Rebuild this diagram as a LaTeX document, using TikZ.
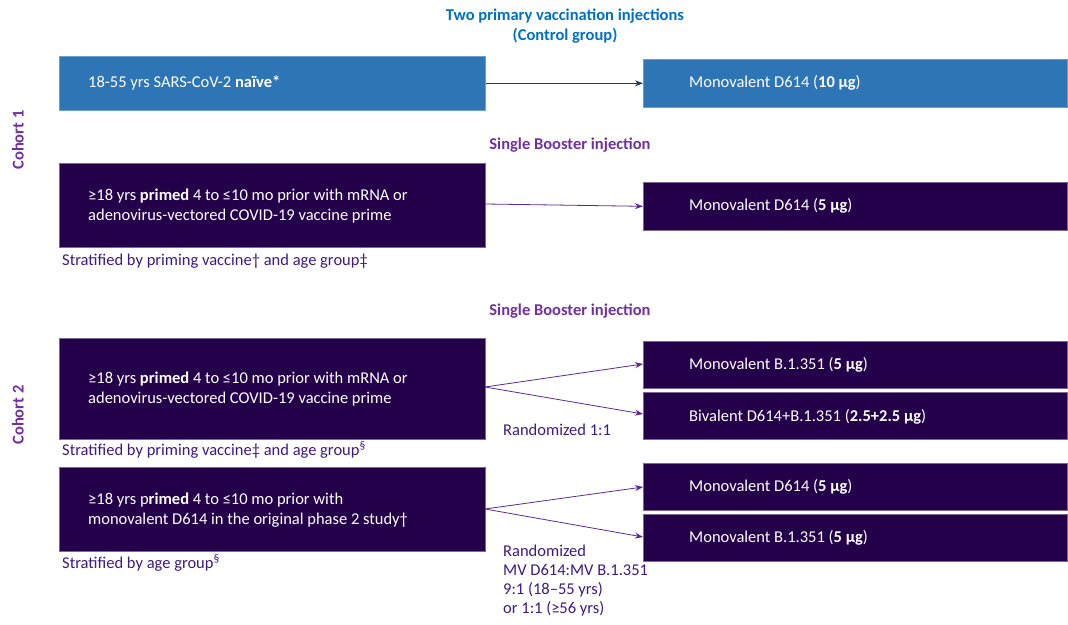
\documentclass[tikz,border=0pt]{standalone}
\usepackage{fontspec}
\setmainfont{Carlito}
\usetikzlibrary{arrows.meta}
\definecolor{cblue}{HTML}{2E75B6}
\definecolor{tblue}{HTML}{0070C0}
\definecolor{dpurp}{HTML}{24004A}
\definecolor{lpurp}{HTML}{7030A0}
\definecolor{spurp}{HTML}{3C1A80}
\definecolor{apurp}{HTML}{5A2A96}
\definecolor{navy}{HTML}{203864}
\begin{document}
\begin{tikzpicture}[x=1pt,y=-1pt,
  txt/.style={font=\fontsize{16.5}{20}\selectfont},
  bluebox/.style={fill=cblue,draw=cblue!70!white,line width=0.6pt,text=white,inner sep=0pt,anchor=north west},
  darkbox/.style={fill=dpurp,draw=dpurp!60!white,line width=0.6pt,text=white,inner sep=0pt,anchor=north west},
  boxtext/.style={txt,text=white,anchor=west,align=left,inner sep=0pt},
  note/.style={txt,text=spurp,anchor=west,align=left,inner sep=0pt},
  head/.style={font=\bfseries\fontsize{16.5}{20}\selectfont,align=center,inner sep=0pt},
  arr/.style={-{Stealth[length=8pt,width=6pt]},line width=0.8pt,draw=apurp},
  ]
\useasboundingbox (0,0) rectangle (1068,624);
% titles
\node[head,text=tblue] (t1) at (565,26) {Two primary vaccination injections\\(Control group)};
\node[head,text=lpurp] (t2) at (570,145) {Single Booster injection};
\node[head,text=lpurp] (t3) at (570,311) {Single Booster injection};
\node[head,text=lpurp,rotate=90] (c1) at (18,140) {Cohort 1};
\node[head,text=lpurp,rotate=90] (c2) at (18,415) {Cohort 2};
% cohort 1 control
\node[bluebox,minimum width=426,minimum height=54] (A) at (59,56) {};
\node[boxtext] at (88,83) {18-55 yrs SARS-CoV-2 \textbf{naïve*}};
\node[bluebox,minimum width=424,minimum height=48] (A2) at (643,59) {};
\node[boxtext] at (689,83) {Monovalent D614 (\textbf{10 µg})};
\draw[-{Stealth[length=8pt,width=6pt]},line width=0.8pt,draw=navy] (A.east) -- (A2.west);
% cohort 1 booster
\node[darkbox,minimum width=426,minimum height=84] (B) at (59,163) {};
\node[boxtext] at (88,206) {≥18 yrs \textbf{primed} 4 to ≤10 mo prior with mRNA or\\adenovirus-vectored COVID-19 vaccine prime};
\node[note] (Bn) at (62,261) {Stratified by priming vaccine† and age group‡};
\node[darkbox,minimum width=424,minimum height=48] (B2) at (643,182) {};
\node[boxtext] at (689,206) {Monovalent D614 (\textbf{5 µg})};
\coordinate (Bs) at (485,204);
\draw[arr] (Bs) -- (B2.west);
% cohort 2 first
\node[darkbox,minimum width=426,minimum height=101] (C) at (59,338) {};
\node[boxtext] at (88,389) {≥18 yrs \textbf{primed} 4 to ≤10 mo prior with mRNA or\\adenovirus-vectored COVID-19 vaccine prime};
\node[note] (Cn) at (62,450) {Stratified by priming vaccine‡ and age group\textsuperscript{§}};
\node[darkbox,minimum width=424,minimum height=47] (C1) at (643,341) {};
\node[boxtext] at (689,365) {Monovalent B.1.351 (\textbf{5 µg})};
\node[darkbox,minimum width=424,minimum height=47] (C2) at (643,392) {};
\node[boxtext] at (689,417) {Bivalent D614+B.1.351 (\textbf{2.5+2.5 µg})};
\coordinate (Cs) at (485,387);
\coordinate (C1t) at (643,364);
\coordinate (C2t) at (643,414);
\draw[arr] (Cs) -- (C1t);
\draw[arr] (Cs) -- (C2t);
\node[note] (Cr) at (503,430) {Randomized 1:1};
% cohort 2 second
\node[darkbox,minimum width=426,minimum height=84] (D) at (59,467) {};
\node[boxtext] at (88,510) {≥18 yrs p\textbf{rimed} 4 to ≤10 mo prior with\\monovalent D614 in the original phase 2 study†};
\node[note] (Dn) at (62,563) {Stratified by age group\textsuperscript{§}};
\node[darkbox,minimum width=424,minimum height=47] (D1) at (643,463) {};
\node[boxtext] at (689,487) {Monovalent D614 (\textbf{5 µg})};
\node[darkbox,minimum width=424,minimum height=47] (D2) at (643,514) {};
\node[boxtext] at (689,538) {Monovalent B.1.351 (\textbf{5 µg})};
\coordinate (Ds) at (485,509);
\coordinate (D1t) at (643,487);
\coordinate (D2t) at (643,537);
\draw[arr] (Ds) -- (D1t);
\draw[arr] (Ds) -- (D2t);
\node[note,font=\fontsize{16.5}{19}\selectfont,anchor=north west] (Dr) at (503,545) {Randomized\\MV D614:MV B.1.351\\9:1 (18–55 yrs)\\or 1:1 (≥56 yrs)};
\end{tikzpicture}
\end{document}
